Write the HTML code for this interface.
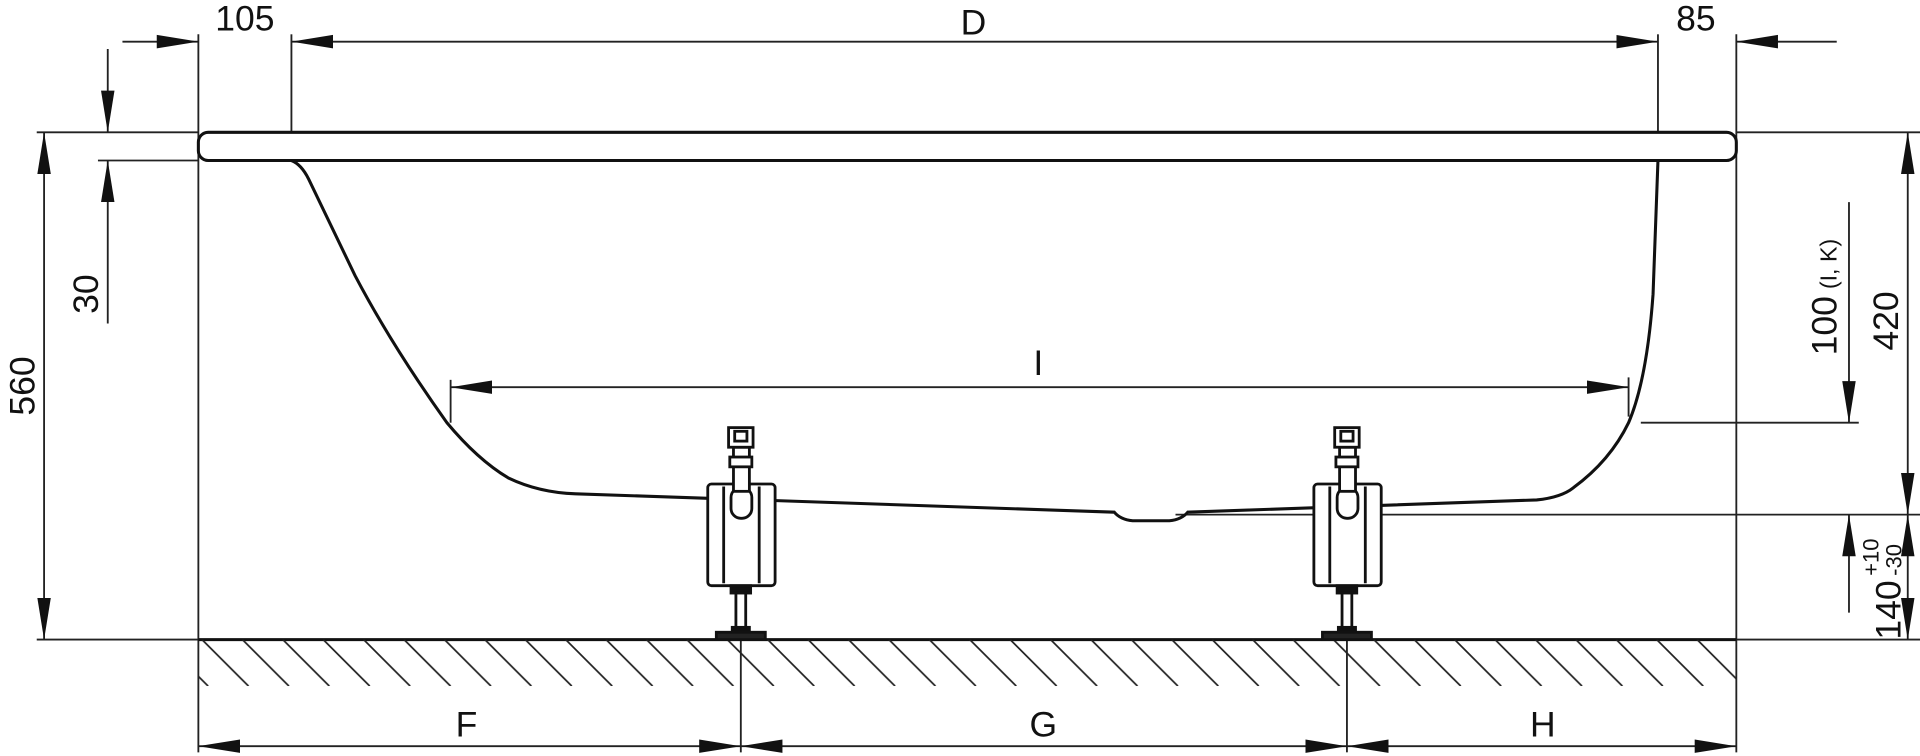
<!DOCTYPE html>
<html><head><meta charset="utf-8"><style>
html,body{margin:0;padding:0;background:#fff;}
svg{display:block;}
text{font-family:"Liberation Sans",Arial,sans-serif;fill:#111;}
</style></head><body>
<svg width="1920" height="756" viewBox="0 0 1568 617" preserveAspectRatio="none" xmlns="http://www.w3.org/2000/svg">
<defs>
<marker id="a" viewBox="0 0 34 12" refX="34" refY="6" markerWidth="34" markerHeight="12" markerUnits="userSpaceOnUse" orient="auto-start-reverse"><path d="M0,0.5 L34,6 L0,11.5 Z" fill="#111"/></marker>
<pattern id="h" width="33" height="38" patternUnits="userSpaceOnUse" x="162" y="522"><path d="M3,0 L41,38 M-30,0 L8,38" stroke="#222" stroke-width="1.4"/></pattern>
<clipPath id="fc"><rect x="162" y="522" width="1256" height="38"/></clipPath>
</defs>
<g stroke="#222" stroke-width="1.5" fill="none">
<line x1="162" y1="28" x2="162" y2="614"/>
<line x1="1418" y1="28" x2="1418" y2="614"/>
<line x1="238" y1="28" x2="238" y2="126"/>
<line x1="1354" y1="28" x2="1354" y2="131"/>
<line x1="605" y1="522" x2="605" y2="614"/>
<line x1="1100" y1="522" x2="1100" y2="614"/>
<line x1="30" y1="108" x2="162" y2="108"/>
<line x1="1418" y1="108" x2="1568" y2="108"/>
<line x1="80" y1="131" x2="162" y2="131"/>
<line x1="30" y1="522" x2="162" y2="522"/>
<line x1="1418" y1="522" x2="1568" y2="522"/>
<line x1="960" y1="420" x2="1568" y2="420"/>
<line x1="1340" y1="345" x2="1518" y2="345"/>
<line x1="100" y1="34" x2="162" y2="34" marker-end="url(#a)"/>
<line x1="238" y1="34" x2="1354" y2="34" marker-start="url(#a)" marker-end="url(#a)"/>
<line x1="1500" y1="34" x2="1418" y2="34" marker-end="url(#a)"/>
<line x1="88" y1="40" x2="88" y2="108" marker-end="url(#a)"/>
<line x1="88" y1="264" x2="88" y2="131" marker-end="url(#a)"/>
<line x1="36" y1="108" x2="36" y2="522" marker-start="url(#a)" marker-end="url(#a)"/>
<line x1="1510" y1="165" x2="1510" y2="345" marker-end="url(#a)"/>
<line x1="1510" y1="500" x2="1510" y2="420" marker-end="url(#a)"/>
<line x1="1558" y1="108" x2="1558" y2="420" marker-start="url(#a)" marker-end="url(#a)"/>
<line x1="1558" y1="420" x2="1558" y2="522" marker-start="url(#a)" marker-end="url(#a)"/>
<line x1="368" y1="310" x2="368" y2="345"/>
<line x1="1330" y1="308" x2="1330" y2="340"/>
<line x1="368" y1="316" x2="1330" y2="316" marker-start="url(#a)" marker-end="url(#a)"/>
<line x1="162" y1="609" x2="605" y2="609" marker-start="url(#a)" marker-end="url(#a)"/>
<line x1="605" y1="609" x2="1100" y2="609" marker-start="url(#a)" marker-end="url(#a)"/>
<line x1="1100" y1="609" x2="1418" y2="609" marker-start="url(#a)" marker-end="url(#a)"/>
</g>
<line x1="162" y1="522" x2="1418" y2="522" stroke="#111" stroke-width="2.5"/>
<rect x="162" y="522" width="1256" height="38" fill="url(#h)" clip-path="url(#fc)"/>
<rect x="162" y="108" width="1256" height="23" rx="8" fill="#fff" stroke="#111" stroke-width="2.5"/>
<path d="M238,131 Q246,134 252,146 L290,225 Q320,282 365,345 Q390,375 415,390 Q440,402 470,403 L910,418 Q915,424 925,425 L955,425 Q965,424 970,418 L1255,408 Q1275,406 1285,398 Q1315,376 1330,345 Q1345,310 1350,240 L1354,131" fill="none" stroke="#111" stroke-width="2.5"/>
<g id="leg" stroke="#111" stroke-width="2.3" fill="#fff">
<rect x="578" y="395" width="55" height="83" rx="3"/>
<line x1="591" y1="397" x2="591" y2="476"/>
<line x1="620" y1="397" x2="620" y2="476"/>
<rect x="597" y="398" width="17" height="25" rx="8"/>
<rect x="599" y="365" width="13" height="36"/>
<rect x="595" y="349" width="20" height="16"/>
<rect x="600" y="352" width="10" height="8"/>
<rect x="596" y="373" width="18" height="8"/>
<rect x="597" y="478" width="16" height="6" fill="#111"/>
<line x1="601" y1="484" x2="601" y2="512"/>
<line x1="609" y1="484" x2="609" y2="512"/>
<rect x="598" y="512" width="14" height="4" fill="#111"/>
<rect x="585" y="516" width="40" height="6" fill="#222"/>
</g>
<use href="#leg" x="495"/>
<g font-size="29">
<text x="200" y="25" text-anchor="middle">105</text>
<text x="795" y="28" text-anchor="middle">D</text>
<text x="1385" y="25" text-anchor="middle">85</text>
<text x="848" y="306" text-anchor="middle">I</text>
<text x="381" y="601" text-anchor="middle">F</text>
<text x="852" y="601" text-anchor="middle">G</text>
<text x="1260" y="601" text-anchor="middle">H</text>
<text transform="translate(80,240) rotate(-90)" text-anchor="middle">30</text>
<text transform="translate(28,315) rotate(-90)" text-anchor="middle">560</text>
<text transform="translate(1550,262) rotate(-90)" text-anchor="middle">420</text>
<text transform="translate(1500,290) rotate(-90)" text-anchor="start">100</text>
<text transform="translate(1500,236) rotate(-90)" font-size="19">(I, K)</text>
<text transform="translate(1552,522) rotate(-90)">140</text>
<text transform="translate(1534,470) rotate(-90)" font-size="18">+10</text>
<text transform="translate(1553,470) rotate(-90)" font-size="18">-30</text>
</g>
</svg>
</body></html>
